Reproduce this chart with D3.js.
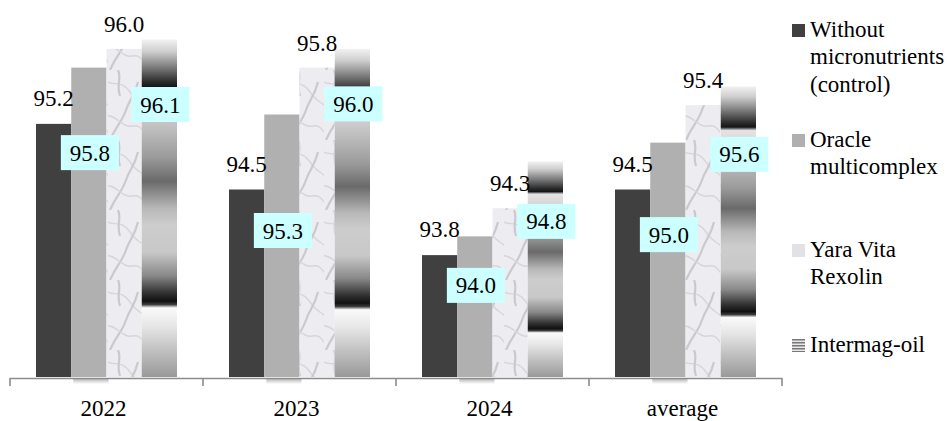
<!DOCTYPE html>
<html>
<head>
<meta charset="utf-8">
<script src="https://cdn.jsdelivr.net/npm/d3@7"></script>
<style>
  body { margin: 0; background: #fff; }
</style>
</head>
<body>
<div id="wrapper"></div>
<script>
// data
const categories = ["2022", "2023", "2024", "average"]
const seriesNames = ["Without micronutrients (control)", "Oracle multicomplex", "Yara Vita Rexolin", "Intermag-oil"]
const legendLines = [["Without", "micronutrients", "(control)"], ["Oracle", "multicomplex"], ["Yara Vita", "Rexolin"], ["Intermag-oil"]]
const control = [95.2, 94.5, 93.8, 94.5]
const oracle = [95.8, 95.3, 94.0, 95.0]
const yara = [96.0, 95.8, 94.3, 95.4]
const intermag = [96.1, 96.0, 94.8, 95.6]

const fontFamily = '"Liberation Serif", monospace'

function drawChart() {
  const seriesValues = [control, oracle, yara, intermag]
  const dataset = []
  categories.forEach((cat, i) => {
    seriesNames.forEach((s, j) => {
      dataset.push({ category: cat, series: s, si: j, ci: i, value: seriesValues[j][i] })
    })
  })

  // label nudges (hand placed in the original)
  const oracleLabelDy = [85, 116, 49, 92]
  const intermagLabelDy = [65, 55, 60, 68]

  let dimensions = {
    width: 950,
    height: 421,
    margin: { top: 2, right: 168, bottom: 43, left: 10 }
  }
  dimensions.boundedWidth = dimensions.width - dimensions.margin.left - dimensions.margin.right
  dimensions.boundedHeight = dimensions.height - dimensions.margin.top - dimensions.margin.bottom

  const wrapper = d3.select("#wrapper")
    .append("svg")
      .attr("width", dimensions.width)
      .attr("height", dimensions.height)

  // defs: textures (no filters)
  const defs = wrapper.append("defs")

  const grad = defs.append("linearGradient")
    .attr("id", "chrome")
    .attr("x1", 0).attr("y1", 0).attr("x2", 0).attr("y2", 1)
  const stops = [
    [0, "#f2f2f2"], [0.035, "#cfcfcf"], [0.085, "#777"], [0.125, "#2c2c2c"],
    [0.14, "#151515"], [0.152, "#e4e4e4"], [0.25, "#c4c4c4"], [0.35, "#9a9a9a"],
    [0.42, "#6a6a6a"], [0.5, "#b8b8b8"], [0.55, "#cdcdcd"], [0.63, "#c8c8c8"],
    [0.7, "#888"], [0.75, "#333"], [0.775, "#111"], [0.785, "#3a3a3a"],
    [0.795, "#fafafa"], [0.85, "#e6e6e6"], [0.93, "#bcbcbc"], [1, "#999"]
  ]
  grad.selectAll("stop").data(stops).enter().append("stop")
    .attr("offset", d => d[0])
    .attr("stop-color", d => d[1])

  const shadowGrad = defs.append("linearGradient")
    .attr("id", "shadowGrad")
    .attr("x1", 0).attr("y1", 0).attr("x2", 0).attr("y2", 1)
  shadowGrad.append("stop").attr("offset", 0).attr("stop-color", "#888").attr("stop-opacity", 0.7)
  shadowGrad.append("stop").attr("offset", 1).attr("stop-color", "#888").attr("stop-opacity", 0)

  const marble = defs.append("pattern")
    .attr("id", "marble")
    .attr("patternUnits", "userSpaceOnUse")
    .attr("width", 36).attr("height", 70)
  marble.append("rect").attr("width", 36).attr("height", 70).attr("fill", "#ededf1")
  const veins = [
    "M-4,10 C6,18 12,8 22,22 S34,30 40,40",
    "M2,70 C8,56 14,52 18,40 S26,28 30,12",
    "M-2,46 C8,44 14,58 24,56 S34,62 40,66",
    "M10,0 C14,8 8,14 12,26"
  ]
  marble.selectAll("path").data(veins).enter().append("path")
    .attr("d", d => d)
    .attr("fill", "none")
    .attr("stroke", (d, i) => i % 2 ? "#c9c9cf" : "#d6d6db")
    .attr("stroke-width", (d, i) => i % 2 ? 2.2 : 1.4)

  const stripes = defs.append("pattern")
    .attr("id", "stripes")
    .attr("patternUnits", "userSpaceOnUse")
    .attr("width", 13).attr("height", 3)
  stripes.append("rect").attr("width", 13).attr("height", 3).attr("fill", "#e8e8e8")
  stripes.append("rect").attr("width", 13).attr("height", 1.5).attr("fill", "#777")

  // scales (absolute page coordinates)
  const yScale = d3.scaleLinear()
    .domain([92.5, 96.5])
    .range([dimensions.margin.top + dimensions.boundedHeight - 1, dimensions.margin.top])

  const xScale = d3.scaleBand()
    .domain(categories)
    .range([dimensions.margin.left, dimensions.margin.left + dimensions.boundedWidth])

  const xSub = d3.scaleBand()
    .domain(seriesNames)
    .range([26, xScale.bandwidth() - 26])

  const axisY = dimensions.margin.top + dimensions.boundedHeight
  const fills = ["#404040", "#b0b0b0", "url(#marble)", "url(#chrome)"]
  const xOf = d => xScale(d.category) + xSub(d.series)
  const bw = xSub.bandwidth()

  // shadows under the grey bars
  wrapper.append("g").selectAll("rect")
    .data(dataset.filter(d => d.si == 1))
    .enter().append("rect")
      .attr("x", d => xOf(d) + 2)
      .attr("y", axisY)
      .attr("width", bw)
      .attr("height", 6)
      .attr("fill", "url(#shadowGrad)")

  // bars
  wrapper.append("g").selectAll("rect")
    .data(dataset)
    .enter().append("rect")
      .attr("x", d => xOf(d))
      .attr("y", d => yScale(d.value))
      .attr("width", bw)
      .attr("height", d => yScale.range()[0] - yScale(d.value))
      .attr("fill", d => fills[d.si])

  // axis line and separators
  const xLeft = xScale.range()[0], xRight = xScale.range()[1]
  wrapper.append("path")
    .attr("d", `M${xLeft},${axisY + 8}V${axisY + 0.5}H${xRight}V${axisY + 8}`)
    .attr("fill", "none")
    .attr("stroke", "#8c8c8c")
    .attr("stroke-width", 1.6)
  wrapper.append("g").selectAll("line")
    .data(categories.slice(1))
    .enter().append("line")
      .attr("x1", d => xScale(d)).attr("x2", d => xScale(d))
      .attr("y1", axisY + 0.5).attr("y2", axisY + 8)
      .attr("stroke", "#8c8c8c")
      .attr("stroke-width", 1.6)

  // label boxes
  const boxedData = dataset.filter(d => d.si == 1 || d.si == 3)
  const boxX = d => xOf(d) + bw / 2 + 1
  const boxY = d => yScale(d.value) + (d.si == 1 ? oracleLabelDy[d.ci] : intermagLabelDy[d.ci])
  wrapper.append("g").selectAll("rect")
    .data(boxedData)
    .enter().append("rect")
      .attr("x", d => boxX(d) - 29)
      .attr("y", d => boxY(d) - 17.5)
      .attr("width", 58).attr("height", 35)
      .attr("fill", "#ccffff")

  // legend swatches
  const legendBaselines = [37, 147, 257, 352]
  const legendFills = ["#404040", "#b0b0b0", "#e2e2e6", "url(#stripes)"]
  wrapper.append("g").selectAll("rect")
    .data(seriesNames)
    .enter().append("rect")
      .attr("x", 792)
      .attr("y", (d, i) => legendBaselines[i] - 13)
      .attr("width", 13).attr("height", 13)
      .attr("fill", (d, i) => legendFills[i])

  // all texts, straight on the svg root
  const textItems = []
  dataset.filter(d => d.si == 0 || d.si == 2).forEach(d => {
    textItems.push({ x: xOf(d) + bw / 2, y: yScale(d.value) - (d.si == 0 ? 18 : 17), anchor: "middle", text: d.value.toFixed(1) })
  })
  boxedData.forEach(d => {
    textItems.push({ x: boxX(d), y: boxY(d) + 8, anchor: "middle", text: d.value.toFixed(1) })
  })
  categories.forEach(c => {
    textItems.push({ x: xScale(c) + xScale.bandwidth() / 2 - 3, y: 416, anchor: "middle", text: c })
  })
  legendLines.forEach((lines, i) => {
    lines.forEach((line, k) => {
      textItems.push({ x: 810, y: legendBaselines[i] + k * 27.3, anchor: "start", text: line })
    })
  })

  textItems.forEach(t => {
    wrapper.append("text")
      .attr("x", t.x)
      .attr("y", t.y)
      .attr("font-size", 23)
      .attr("text-anchor", t.anchor)
      .style("font-family", fontFamily)
      .text(t.text)
  })
}

drawChart()
</script>
</body>
</html>
